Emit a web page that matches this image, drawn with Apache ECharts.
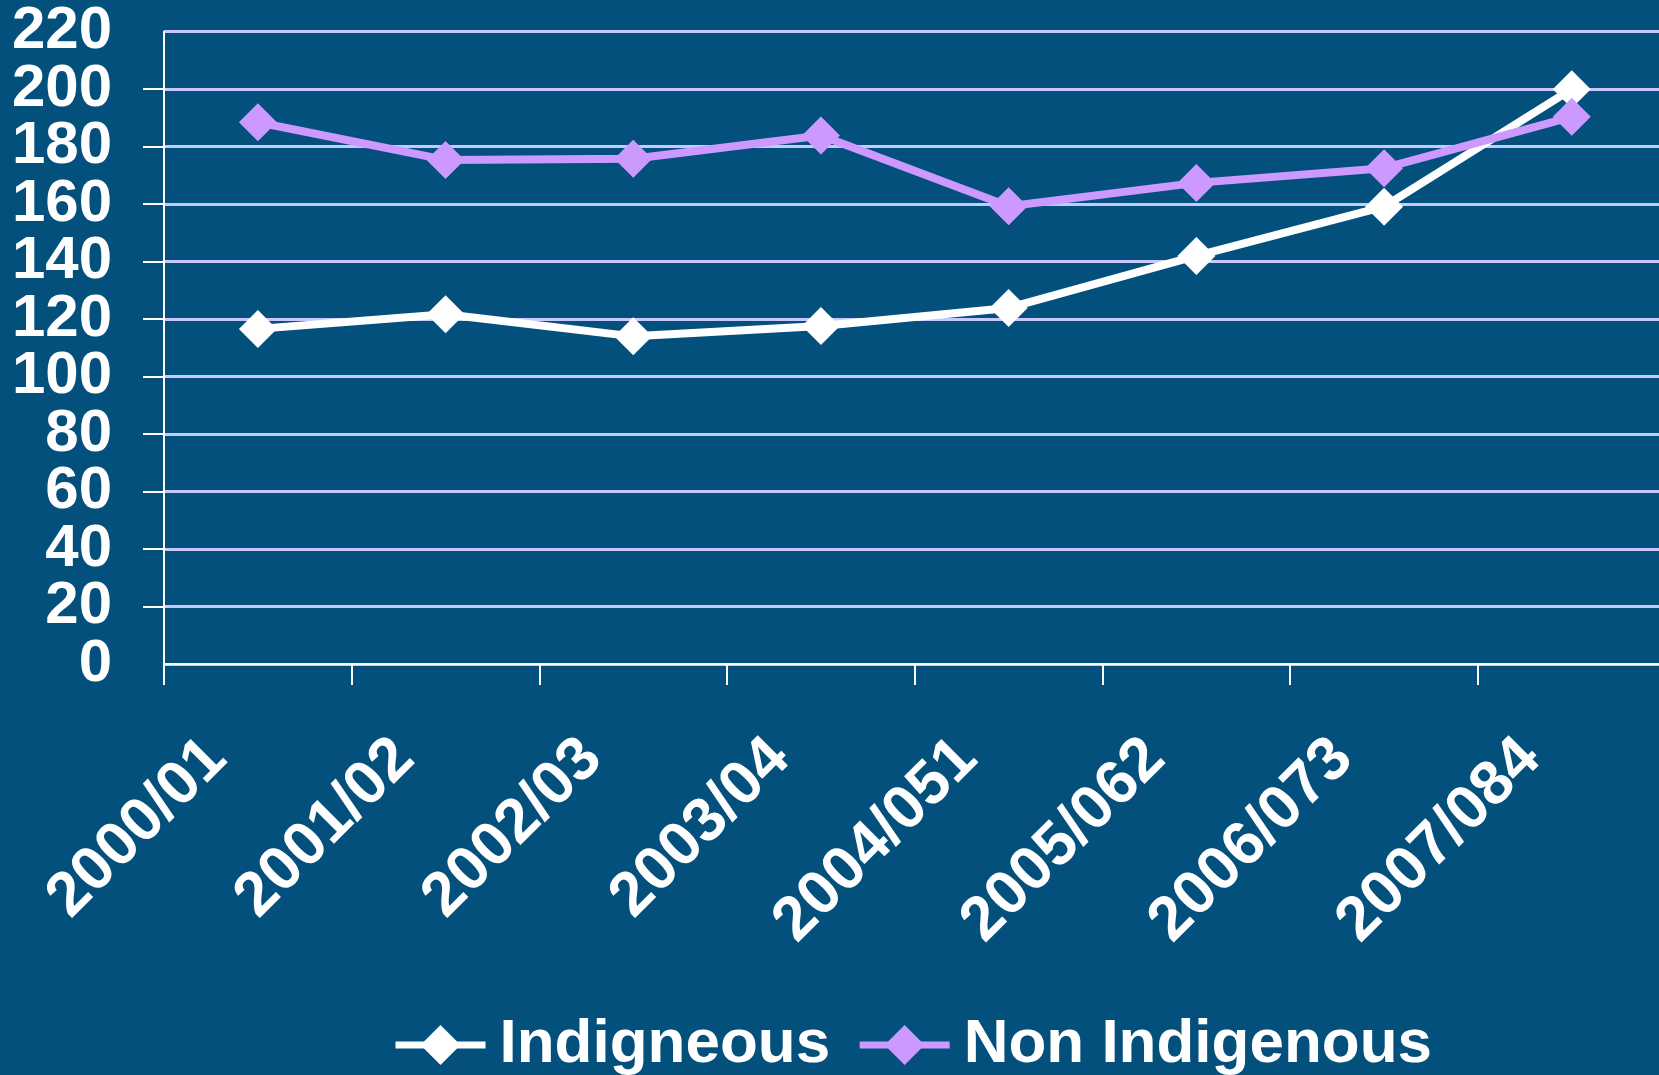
<!DOCTYPE html>
<html>
<head>
<meta charset="utf-8">
<script src="https://cdn.jsdelivr.net/npm/echarts@6/dist/echarts.min.js"></script>
<style>
html,body{margin:0;padding:0;background:#03507d;}
#chart{width:1659px;height:1075px;}
</style>
</head>
<body>
<div id="chart"></div>
<script>
const categories = ["2000/01","2001/02","2002/03","2003/04","2004/051","2005/062","2006/073","2007/084"];
const indigenous = [116.6, 121.7, 114, 117.6, 123.9, 142, 159.1, 200];
const nonIndigenous = [188.5, 175.4, 175.8, 183.9, 159.3, 167.4, 172.5, 190.4];
const yMin = 0, yMax = 220, yStep = 20;

const FONT = "'Liberation Sans', Arial, sans-serif";
const yLabelStyle = {color: '#ffffff', fontSize: 60, fontWeight: 'bold', fontFamily: FONT, margin: 52};
const chart = echarts.init(document.getElementById('chart'), null, {renderer: 'canvas'});
chart.setOption({
  backgroundColor: '#03507d',
  animation: false,
  grid: {left: 164, top: 31.7, width: 1501.6, height: 632.3, containLabel: false, outerBoundsMode: 'none'},
  legend: {
    left: 387, top: 1009,
    itemWidth: 90, itemHeight: 50, itemGap: 26,
    lineStyle: {width: 7},
    textStyle: {color: '#ffffff', fontSize: 62, fontWeight: 'bold', fontFamily: FONT, padding: [0,0,0,9]},
    data: ['Indigneous', 'Non Indigenous']
  },
  xAxis: {
    type: 'category',
    data: categories,
    boundaryGap: true,
    axisLine: {lineStyle: {color: '#ffffff', width: 2}},
    axisTick: {show: true, length: 21, alignWithLabel: false, lineStyle: {color: '#ffffff', width: 2}},
    axisLabel: {
      color: '#ffffff', fontSize: 62, fontWeight: 'bold', fontFamily: FONT,
      rotate: 45, margin: 44, padding: [0, 58, 0, 0], interval: 0
    },
    splitLine: {show: false}
  },
  yAxis: [
    {
      type: 'value', position: 'left',
      min: yMin, max: yMax, interval: yStep,
      axisLine: {show: true, lineStyle: {color: '#ffffff', width: 2}},
      axisTick: {show: true, length: 21, lineStyle: {color: '#ffffff', width: 2}},
      axisLabel: Object.assign({showMinLabel: false, showMaxLabel: false}, yLabelStyle),
      splitLine: {show: true, lineStyle: {color: '#c8c8ff', width: 3}}
    },
    {
      type: 'value', position: 'left', offset: 0,
      min: yMin, max: yMax, interval: yStep,
      axisLine: {show: false}, axisTick: {show: false}, splitLine: {show: false},
      axisLabel: Object.assign({
        showMinLabel: true, showMaxLabel: true,
        formatter: function (v) { return (v === yMin || v === yMax) ? String(v) : ''; }
      }, yLabelStyle)
    }
  ],
  series: [
    {
      name: 'Indigneous', type: 'line', data: indigenous, yAxisIndex: 0,
      symbol: 'diamond', symbolSize: 38,
      lineStyle: {color: '#ffffff', width: 8},
      itemStyle: {color: '#ffffff'}
    },
    {
      name: 'Non Indigenous', type: 'line', data: nonIndigenous, yAxisIndex: 0,
      symbol: 'diamond', symbolSize: 38,
      lineStyle: {color: '#cc99ff', width: 8},
      itemStyle: {color: '#cc99ff'}
    }
  ]
});
</script>
</body>
</html>
